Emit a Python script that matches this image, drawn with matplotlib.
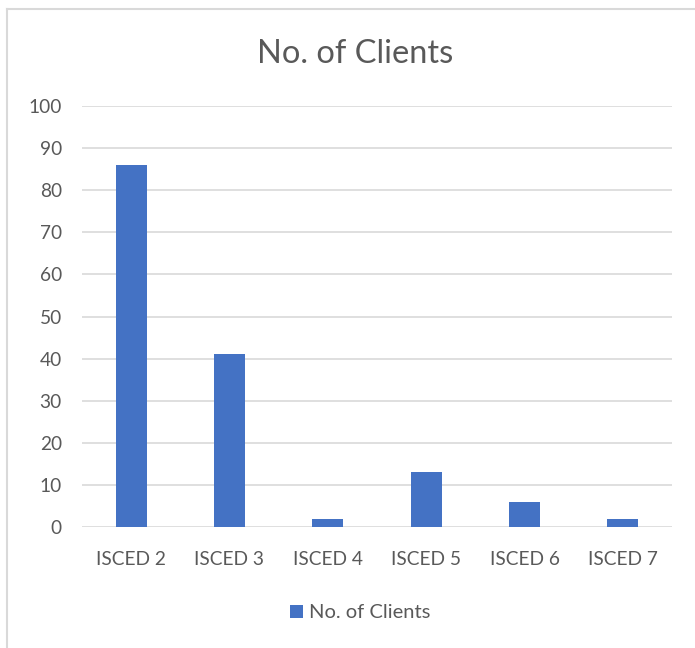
import matplotlib
matplotlib.use("Agg")
import matplotlib.pyplot as plt
from matplotlib.lines import Line2D

categories = ["ISCED 2", "ISCED 3", "ISCED 4", "ISCED 5", "ISCED 6", "ISCED 7"]
values = [86, 41, 2, 13, 6, 2]
series_name = "No. of Clients"
yticks = list(range(0, 101, 10))

plt.rcParams['font.family'] = ['Lato', 'DejaVu Sans']

fig = plt.figure(figsize=(6.95, 6.48), dpi=100)
ax = fig.add_axes([82/695, 1-527/648, 590/695, 421/648])

x = list(range(len(categories)))
ax.bar(x, values, width=0.315, color="#4472C4", label=series_name, zorder=3)
ax.set_xlim(-0.5, len(categories)-0.5)
ax.set_ylim(0, 100)
ax.set_yticks(yticks)
ax.set_xticks(x)
ax.set_xticklabels(categories)
ax.grid(axis='y', color="#D9D9D9", linewidth=1.2, zorder=0)
for s in ax.spines.values():
    s.set_visible(False)
ax.tick_params(axis='both', length=0, colors="#595959", labelsize=13.8)
ax.tick_params(axis='y', pad=14.5)
ax.tick_params(axis='x', pad=17)

fig.text(355/695, 1-54/648, series_name, ha='center', va='center', fontsize=23.5, color="#595959")

leg = fig.legend(loc='center', bbox_to_anchor=(360/695, 1-613/648), frameon=False,
                 fontsize=14.5, handlelength=0.65, handleheight=0.65, handletextpad=0.3)
for t in leg.get_texts():
    t.set_color("#595959")

# chart border (only left and top visible in the reference crop)
fig.add_artist(Line2D([6.5/695, 6.5/695], [0, 1-8.5/648], transform=fig.transFigure,
                      color="#D9D9D9", linewidth=1.5))
fig.add_artist(Line2D([6.5/695, 1], [1-8.5/648, 1-8.5/648], transform=fig.transFigure,
                      color="#D9D9D9", linewidth=1.5))

fig.savefig("out.png", dpi=100)
